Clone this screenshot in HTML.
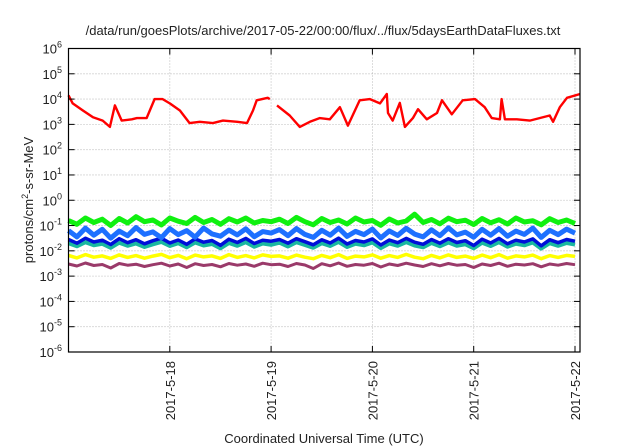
<!DOCTYPE html>
<html><head><meta charset="utf-8"><style>
html,body{margin:0;padding:0;background:#fff;}
svg{display:block;font-family:"Liberation Sans",sans-serif;}
</style></head><body>
<svg id="chart" width="640" height="448" viewBox="0 0 640 448" xmlns="http://www.w3.org/2000/svg">
<rect width="640" height="448" fill="#fff"/>
<text x="323" y="35" font-size="13" text-anchor="middle" fill="#222">/data/run/goesPlots/archive/2017-05-22/00:00/flux/../flux/5daysEarthDataFluxes.txt</text>
<g id="grid"></g>
<g id="series"></g>
<g id="axes"></g>
<text transform="translate(33,200) rotate(-90)" font-size="13" text-anchor="middle" fill="#222">protons/cm<tspan baseline-shift="super" font-size="9">2</tspan>-s-sr-MeV</text>
<text x="324" y="443" font-size="13" text-anchor="middle" fill="#222">Coordinated Universal Time (UTC)</text>
</svg>
<script>
const dayLabels=["2017-5-18","2017-5-19","2017-5-20","2017-5-21","2017-5-22"];
const dayHours=[24,48,72,96,120];
const yExps=[-6,-5,-4,-3,-2,-1,0,1,2,3,4,5,6];
const redHours=[0,1,3.4,5.8,8.1,9.8,11,12.6,15,16.2,18.5,20.4,22.3,24,26.4,28.7,31.1,34.2,36.6,40,42.3,43.7,44.6,47.2,47.7,null,49.4,52.4,54.8,57.2,59.5,61.9,64.3,66.2,69,71.4,73.8,75.4,75.7,76.8,78.5,79.7,81.6,82.8,84.9,87.3,88.5,90.8,93.4,96.3,98.6,100.3,102.2,102.6,103.4,106.2,109.3,114,114.8,116.4,118.1,121.2];
const redLog=[4.15,3.83,3.55,3.28,3.15,2.9,3.75,3.15,3.2,3.25,3.25,4.0,4.0,3.83,3.55,3.05,3.1,3.05,3.15,3.1,3.05,3.55,3.95,4.05,4.0,null,3.75,3.35,2.9,3.1,3.25,3.2,3.68,2.95,3.95,4.0,3.83,4.2,3.45,3.15,3.85,2.9,3.25,3.6,3.2,3.45,3.95,3.4,3.95,4.0,3.68,3.25,3.2,4.0,3.2,3.2,3.15,3.35,3.1,3.68,4.05,4.2];
const hours=[0,2,4,6,8,10,12,14,16,18,20,22,24,26,28,30,32,34,36,38,40,42,44,46,48,50,52,54,56,58,60,62,64,66,68,70,72,74,76,78,80,82,84,86,88,90,92,94,96,98,100,102,104,106,108,110,112,114,116,118,120];
const purpleLog=[-2.52,-2.60,-2.48,-2.58,-2.54,-2.68,-2.50,-2.57,-2.53,-2.62,-2.55,-2.49,-2.60,-2.52,-2.66,-2.51,-2.58,-2.54,-2.63,-2.50,-2.57,-2.52,-2.61,-2.49,-2.55,-2.53,-2.62,-2.50,-2.56,-2.70,-2.51,-2.59,-2.48,-2.61,-2.54,-2.57,-2.50,-2.64,-2.52,-2.58,-2.49,-2.56,-2.62,-2.51,-2.59,-2.50,-2.57,-2.54,-2.66,-2.52,-2.58,-2.49,-2.61,-2.53,-2.56,-2.51,-2.63,-2.52,-2.57,-2.50,-2.55];
const yellowLog=[-2.18,-2.28,-2.15,-2.25,-2.20,-2.30,-2.16,-2.26,-2.19,-2.29,-2.21,-2.14,-2.27,-2.18,-2.31,-2.17,-2.24,-2.20,-2.30,-2.15,-2.26,-2.19,-2.28,-2.16,-2.22,-2.20,-2.29,-2.17,-2.25,-2.31,-2.18,-2.27,-2.15,-2.30,-2.21,-2.24,-2.16,-2.29,-2.19,-2.26,-2.14,-2.25,-2.31,-2.18,-2.28,-2.16,-2.26,-2.21,-2.30,-2.17,-2.27,-2.15,-2.29,-2.20,-2.24,-2.17,-2.31,-2.19,-2.26,-2.18,-2.22];
const tealLog=[-1.70,-1.82,-1.66,-1.78,-1.72,-1.88,-1.68,-1.80,-1.71,-1.85,-1.74,-1.65,-1.81,-1.70,-1.86,-1.67,-1.79,-1.73,-1.90,-1.69,-1.80,-1.66,-1.84,-1.71,-1.76,-1.68,-1.83,-1.66,-1.77,-1.88,-1.70,-1.81,-1.65,-1.85,-1.72,-1.78,-1.67,-1.89,-1.71,-1.80,-1.66,-1.79,-1.86,-1.69,-1.82,-1.67,-1.80,-1.74,-1.90,-1.68,-1.81,-1.66,-1.84,-1.72,-1.78,-1.67,-1.91,-1.70,-1.80,-1.69,-1.75];
const darkBlueLog=[-1.55,-1.70,-1.50,-1.65,-1.58,-1.75,-1.52,-1.68,-1.56,-1.72,-1.60,-1.50,-1.69,-1.57,-1.74,-1.53,-1.66,-1.59,-1.78,-1.54,-1.67,-1.51,-1.71,-1.58,-1.62,-1.55,-1.70,-1.52,-1.64,-1.76,-1.56,-1.69,-1.50,-1.73,-1.59,-1.65,-1.53,-1.77,-1.57,-1.68,-1.51,-1.66,-1.74,-1.55,-1.70,-1.52,-1.67,-1.60,-1.79,-1.54,-1.69,-1.51,-1.72,-1.58,-1.65,-1.53,-1.80,-1.56,-1.68,-1.55,-1.62];
const lightBlueLog=[-1.20,-1.45,-1.10,-1.38,-1.15,-1.50,-1.22,-1.40,-1.08,-1.35,-1.25,-1.48,-1.12,-1.36,-1.20,-1.46,-1.10,-1.33,-1.42,-1.18,-1.37,-1.13,-1.44,-1.24,-1.30,-1.16,-1.40,-1.12,-1.35,-1.47,-1.19,-1.38,-1.10,-1.43,-1.23,-1.36,-1.14,-1.49,-1.21,-1.39,-1.11,-1.34,-1.45,-1.17,-1.40,-1.09,-1.37,-1.26,-1.46,-1.15,-1.38,-1.12,-1.42,-1.22,-1.35,-1.10,-1.47,-1.19,-1.36,-1.14,-1.30];
const greenLog=[-0.80,-0.95,-0.70,-0.88,-0.75,-1.00,-0.72,-0.90,-0.65,-0.85,-0.78,-0.98,-0.70,-0.83,-0.92,-0.68,-0.88,-0.76,-0.95,-0.73,-0.86,-0.70,-0.90,-0.80,-0.85,-0.75,-0.92,-0.68,-0.85,-0.97,-0.72,-0.88,-0.78,-0.94,-0.70,-0.86,-0.80,-0.99,-0.74,-0.90,-0.82,-0.55,-0.88,-0.76,-0.93,-0.71,-0.85,-0.79,-0.96,-0.72,-0.89,-0.77,-0.94,-0.70,-0.86,-0.81,-0.97,-0.73,-0.88,-0.78,-0.92];

const L=68.5,R=580,T=48.5,B=352;
const HMAX=(R-L)/101.3*24;
function xs(h){return L+h/HMAX*(R-L);}
function ys(lg){return B-(lg+6)/12*(B-T);}
const NS="http://www.w3.org/2000/svg";
function mk(tag,attrs,parent){const e=document.createElementNS(NS,tag);for(const k in attrs)e.setAttribute(k,attrs[k]);parent.appendChild(e);return e;}
const grid=document.getElementById('grid'),axes=document.getElementById('axes'),ser=document.getElementById('series');

yExps.forEach(p=>{
  const y=ys(p);
  if(p>-6&&p<6){const g=mk('line',{x1:L,x2:R,y1:y,y2:y,stroke:'#aaa','stroke-width':0.8,'stroke-dasharray':'1,2'},grid);
  
  }
  mk('line',{x1:L,x2:L+6,y1:y,y2:y,stroke:'#000','stroke-width':1},axes);
  mk('line',{x1:R-6,x2:R,y1:y,y2:y,stroke:'#000','stroke-width':1},axes);
  const t=mk('text',{x:62,y:y+5,'font-size':13,'text-anchor':'end',fill:'#222'},axes);
  
  
  t.textContent='10';
  const s=document.createElementNS(NS,'tspan');s.setAttribute('dy','-6');s.setAttribute('font-size','9');s.textContent=String(p);t.appendChild(s);
});
dayHours.forEach((h,i)=>{
  const x=xs(h);
  const g=mk('line',{x1:x,x2:x,y1:T,y2:B,stroke:'#aaa','stroke-width':0.8,'stroke-dasharray':'1,2'},grid);
  
  
  mk('line',{x1:x,x2:x,y1:B,y2:B-6,stroke:'#000','stroke-width':1},axes);
  mk('line',{x1:x,x2:x,y1:T,y2:T+6,stroke:'#000','stroke-width':1},axes);
  const t=mk('text',{transform:`translate(${x+5},361) rotate(-90)`,'font-size':13,'text-anchor':'end',fill:'#222'},axes);
  
  
  t.textContent=dayLabels[i];
});
const fr=mk('rect',{x:L,y:T,width:R-L,height:B-T,fill:'none',stroke:'#000','stroke-width':1.2},axes);



function path(hArr,vArr){let d='',pen=false;for(let i=0;i<vArr.length&&i<hArr.length;i++){const v=vArr[i],h=hArr[i];if(v===null||h===null){pen=false;continue;}d+=(pen?'L':'M')+xs(h).toFixed(1)+','+ys(v).toFixed(1);pen=true;}return d;}
const defs=[
 ['series-purple',purpleLog,'#9a3a6a',3],
 ['series-yellow',yellowLog,'#ffff00',3.5],
 ['series-teal',tealLog,'#1ab8a0',4],
 ['series-dark-blue',darkBlueLog,'#0010d8',3.5],
 ['series-light-blue',lightBlueLog,'#1e70ff',5],
 ['series-green',greenLog,'#10f010',5]];
defs.forEach(s=>{
  const p=mk('path',{d:path(hours,s[1]),fill:'none',stroke:s[2],'stroke-width':s[3],'stroke-linejoin':'round'},ser);
  
  
});
const rp=mk('path',{d:path(redHours,redLog),fill:'none',stroke:'#ff0000','stroke-width':2.4,'stroke-linejoin':'round'},ser);


</script>
</body></html>
